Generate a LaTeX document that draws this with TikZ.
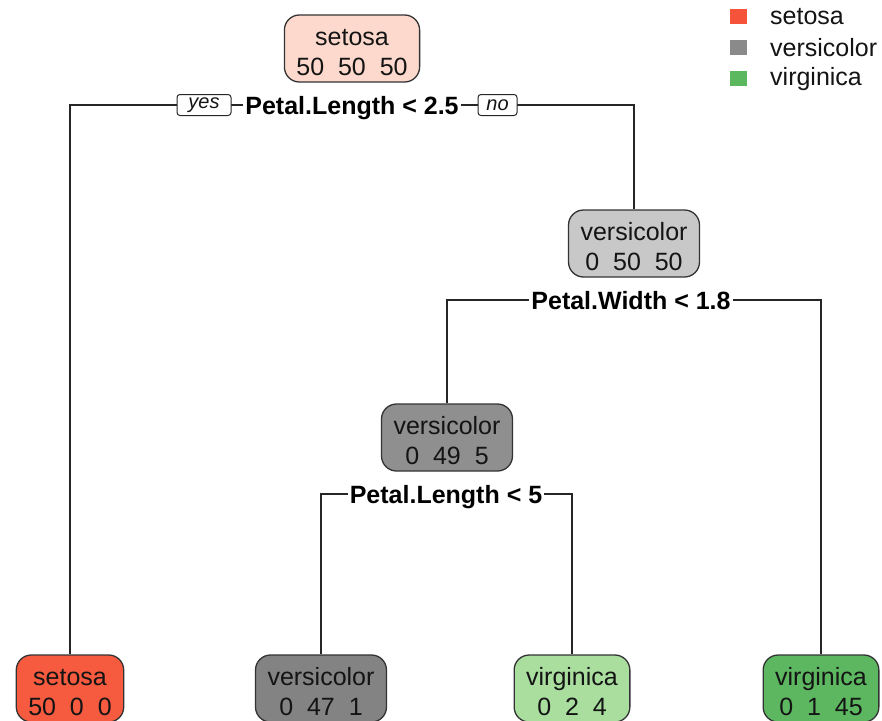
\documentclass[tikz,border=0pt]{standalone}
\usepackage{fontspec}
\setmainfont{Liberation Sans}
\usetikzlibrary{backgrounds}
\definecolor{rootc}{HTML}{FCD9CC}
\definecolor{setc}{HTML}{F65B3F}
\definecolor{verA}{HTML}{C8C8C8}
\definecolor{verB}{HTML}{8F8F8F}
\definecolor{verC}{HTML}{838383}
\definecolor{virA}{HTML}{A9DE9F}
\definecolor{virB}{HTML}{5DB760}
\definecolor{legS}{HTML}{F5543A}
\definecolor{legV}{HTML}{8A8A8A}
\definecolor{legG}{HTML}{5CB85F}
\definecolor{ink}{HTML}{141414}
\newcommand{\boxtxt}[2]{\rule{0pt}{24pt}#1\\#2}
\tikzset{
  treebox/.style={draw=black!80, line width=1.3pt, rounded corners=15pt,
    minimum height=67pt, inner xsep=12pt, inner ysep=0pt, align=center,
    font=\fontsize{25}{30}\selectfont, text=ink},
  splitlab/.style={fill=white, inner xsep=2pt, inner ysep=2pt, anchor=base,
    font=\bfseries\fontsize{25}{30}\selectfont, text=black},
  yesno/.style={draw=black!85, fill=white, rounded corners=3pt, line width=1pt,
    font=\itshape\fontsize{20}{24}\selectfont, minimum height=21pt,
    inner xsep=0pt, inner ysep=0pt, text=ink},
  edge/.style={line width=1.4pt, black!85},
  legsq/.style={minimum width=17pt, minimum height=15pt, inner sep=0pt},
  legtext/.style={anchor=west, font=\fontsize{25}{30}\selectfont, inner sep=0pt, text=ink}
}
\begin{document}
\begin{tikzpicture}[x=1pt,y=-1pt]
\useasboundingbox (0,0) rectangle (882,720);
% tree nodes
\node[treebox, fill=rootc] (n1) at (352,48.5) {\boxtxt{setosa}{50\ \ 50\ \ 50}};
\node[treebox, fill=verA] (n2) at (634,243.5) {\boxtxt{versicolor}{0\ \ 50\ \ 50}};
\node[treebox, fill=verB] (n3) at (447,437.5) {\boxtxt{versicolor}{0\ \ 49\ \ 5}};
\node[treebox, fill=setc] (l1) at (70,688.5) {\boxtxt{setosa}{50\ \ 0\ \ 0}};
\node[treebox, fill=verC] (l2) at (321,688.5) {\boxtxt{versicolor}{0\ \ 47\ \ 1}};
\node[treebox, fill=virA] (l3) at (572,688.5) {\boxtxt{virginica}{0\ \ 2\ \ 4}};
\node[treebox, fill=virB] (l4) at (821,688.5) {\boxtxt{virginica}{0\ \ 1\ \ 45}};
% split points
\coordinate (c1) at (352,105);
\coordinate (c2) at (631,300);
\coordinate (c3) at (446,494);
% split labels
\node[splitlab] (s1) at (352,114) {Petal.Length < 2.5};
\node[splitlab] (s2) at (631,309) {Petal.Width < 1.8};
\node[splitlab] (s3) at (446,503) {Petal.Length < 5};
\node[yesno, minimum width=54pt] (yes) at (204,105) {yes};
\node[yesno, minimum width=39pt] (no) at (497.5,105) {no};
% connectors
\begin{scope}[on background layer]
\draw[edge] (l1.north) |- (c1) -| (n2.north);
\draw[edge] (n3.north) |- (c2) -| (l4.north);
\draw[edge] (l2.north) |- (c3) -| (l3.north);
\end{scope}
% legend
\node[legsq, fill=legS] (k1) at (738,16) {};
\node[legsq, fill=legV] (k2) at (738,47) {};
\node[legsq, fill=legG] (k3) at (738,78) {};
\node[legtext] (t1) at (770,17) {setosa};
\node[legtext] (t2) at (770,48) {versicolor};
\node[legtext] (t3) at (770,79) {virginica};
\end{tikzpicture}
\end{document}
